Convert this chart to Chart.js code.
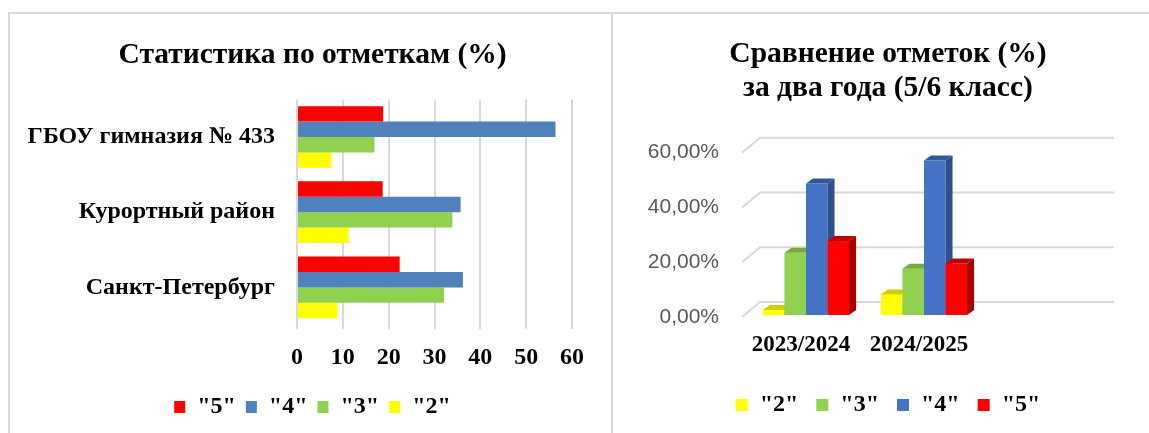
<!DOCTYPE html>
<html>
<head>
<meta charset="utf-8">
<script src="https://cdn.jsdelivr.net/npm/chart.js@4.4.1/dist/chart.umd.min.js"></script>
<style>
  html, body { margin: 0; padding: 0; background: #fff; }
  body { width: 1149px; height: 433px; position: relative; overflow: hidden; }
  .panel { position: absolute; border-top: 2px solid #d9d9d9; border-left: 2px solid #d9d9d9; }
  #p1 { left: 8px; top: 12px; width: 602px; height: 430px; }
  #p2 { left: 611px; top: 12px; width: 540px; height: 430px; }
  canvas { position: absolute; }
  #c1 { left: 10px; top: 14px; }
  #c2 { left: 614px; top: 14px; }
</style>
</head>
<body>
<div class="panel" id="p1"></div>
<div class="panel" id="p2"></div>
<canvas id="c1" width="605" height="419"></canvas>
<canvas id="c2" width="548" height="419"></canvas>
<script>
// left chart: marks by school (%)
const schools = ["ГБОУ гимназия № 433", "Курортный район", "Санкт-Петербург"];
const mark5 = [18.8, 18.7, 22.4];
const mark4 = [56.4, 35.7, 36.2];
const mark3 = [16.9, 33.9, 32.1];
const mark2 = [7.5, 11.3, 8.8];

// right chart: two years, 5/6 class (share)
const years = ["2023/2024", "2024/2025", ""];
const yMark2 = [0.018, 0.075, null];
const yMark3 = [0.227, 0.169, null];
const yMark4 = [0.48, 0.564, null];
const yMark5 = [0.27, 0.188, null];

const serif = "'Liberation Serif', 'Times New Roman', serif";
const RED = "#FF0000", YELLOW = "#FFFF00", GREEN = "#92D050";

// empty axis on the right, only reserves room so the title stays centred
const spacer = (w) => ({
  type: "linear", position: "right", display: true,
  ticks: { display: false }, grid: { display: false }, border: { display: false },
  afterFit: (s) => { s.width = w; },
});

new Chart(document.getElementById("c1"), {
  type: "bar",
  data: {
    labels: schools,
    datasets: [
      { label: '"5"', data: mark5, backgroundColor: RED },
      { label: '"4"', data: mark4, backgroundColor: "#4F81BD" },
      { label: '"3"', data: mark3, backgroundColor: GREEN },
      { label: '"2"', data: mark2, backgroundColor: YELLOW },
    ],
  },
  options: {
    responsive: false,
    animation: false,
    indexAxis: "y",
    categoryPercentage: 0.82,
    barPercentage: 1.0,
    layout: { padding: { left: 0, right: 0, top: 0, bottom: 4 } },
    plugins: {
      title: {
        display: true,
        text: "Статистика по отметкам (%)",
        color: "#000",
        font: { family: serif, size: 29.5, weight: "bold", lineHeight: 1.2 },
        padding: { top: 24, bottom: 26 },
      },
      legend: {
        position: "bottom",
        labels: {
          boxWidth: 11, boxHeight: 12, padding: 10, color: "#000",
          font: { family: serif, size: 24, weight: "bold" },
        },
      },
      tooltip: { enabled: false },
    },
    scales: {
      x: {
        min: 0, max: 60,
        ticks: { stepSize: 10, color: "#000", padding: 14,
          font: { family: serif, size: 24, weight: "bold" } },
        grid: { color: "#d9d9d9", lineWidth: 2, tickLength: 4 },
        border: { display: false },
        afterFit: (s) => { s.height = 60; },
      },
      y: {
        ticks: { color: "#000", padding: 14,
          font: { family: serif, size: 24, weight: "bold" } },
        grid: { display: false },
        border: { display: false },
        afterFit: (s) => { s.width = 287; },
      },
      yPad: spacer(43),
    },
  },
});

// fake 3D look for the right chart
const DEPTH_X = 18, DEPTH_Y = 15;     // floor / back wall depth
const BAR_DX = 7, BAR_DY = 5;         // bar thickness
const BAR_OX = 5, BAR_OY = -2;        // bars sit a bit behind the front
const sideColors = ["#BFBF00", "#6A9A38", "#2F4F8A", "#A80000"];
const topColors = ["#CFCF00", "#78A842", "#34589A", "#C00000"];

const pseudo3d = {
  id: "pseudo3d",
  beforeDatasetsDraw(chart) {
    const { ctx, chartArea, scales } = chart;
    const y = scales.y;
    ctx.save();
    ctx.strokeStyle = "#d9d9d9";
    ctx.lineWidth = 2;
    y.ticks.forEach((t) => {
      const py = y.getPixelForValue(t.value);
      ctx.beginPath();
      ctx.moveTo(chartArea.left, py);
      ctx.lineTo(chartArea.left + DEPTH_X, py - DEPTH_Y);
      ctx.lineTo(chartArea.right + DEPTH_X, py - DEPTH_Y);
      ctx.stroke();
    });
    chart.data.datasets.forEach((ds, i) => {
      chart.getDatasetMeta(i).data.forEach((bar, j) => {
        if (ds.data[j] == null) return;
        const p = bar.getProps(["x", "y", "base", "width"]);
        const l = p.x - p.width / 2 + BAR_OX, r = p.x + p.width / 2 + BAR_OX;
        const t = p.y + BAR_OY, b = p.base + BAR_OY;
        ctx.fillStyle = ds.backgroundColor;
        ctx.fillRect(l, t, r - l, b - t);
        ctx.fillStyle = topColors[i];
        ctx.beginPath();
        ctx.moveTo(l, t); ctx.lineTo(r, t);
        ctx.lineTo(r + BAR_DX, t - BAR_DY); ctx.lineTo(l + BAR_DX, t - BAR_DY);
        ctx.closePath(); ctx.fill();
        ctx.fillStyle = sideColors[i];
        ctx.beginPath();
        ctx.moveTo(r, t); ctx.lineTo(r + BAR_DX, t - BAR_DY);
        ctx.lineTo(r + BAR_DX, b - BAR_DY); ctx.lineTo(r, b);
        ctx.closePath(); ctx.fill();
      });
    });
    ctx.restore();
    return false;
  },
};

new Chart(document.getElementById("c2"), {
  type: "bar",
  data: {
    labels: years,
    datasets: [
      { label: '"2"', data: yMark2, backgroundColor: YELLOW },
      { label: '"3"', data: yMark3, backgroundColor: GREEN },
      { label: '"4"', data: yMark4, backgroundColor: "#4472C4" },
      { label: '"5"', data: yMark5, backgroundColor: RED },
    ],
  },
  plugins: [pseudo3d],
  options: {
    responsive: false,
    animation: false,
    categoryPercentage: 0.73,
    barPercentage: 1.0,
    layout: { padding: { left: 0, right: 0, top: 0, bottom: 6 } },
    plugins: {
      title: {
        display: true,
        text: ["Сравнение отметок (%)", "за два года (5/6 класс)"],
        color: "#000",
        font: { family: serif, size: 29.5, weight: "bold", lineHeight: 1.13 },
        padding: { top: 24, bottom: 48 },
      },
      legend: {
        position: "bottom",
        labels: {
          boxWidth: 12, boxHeight: 12, padding: 18, color: "#000",
          font: { family: serif, size: 24, weight: "bold" },
        },
      },
      tooltip: { enabled: false },
    },
    scales: {
      x: {
        ticks: { color: "#000", padding: 14,
          font: { family: serif, size: 23, weight: "bold" } },
        grid: { display: false, drawTicks: false },
        border: { display: false },
        afterFit: (s) => { s.height = 58; },
      },
      y: {
        min: 0, max: 0.6,
        ticks: {
          stepSize: 0.2, color: "#595959", padding: 23,
          font: { family: "'Liberation Sans', Arial, sans-serif", size: 21 },
          callback: (v) => (v * 100).toFixed(2).replace(".", ",") + "%",
        },
        grid: { display: false, drawTicks: false },
        border: { display: false },
        afterFit: (s) => { s.width = 128; },
      },
      yPad: spacer(66),
    },
  },
});
</script>
</body>
</html>
